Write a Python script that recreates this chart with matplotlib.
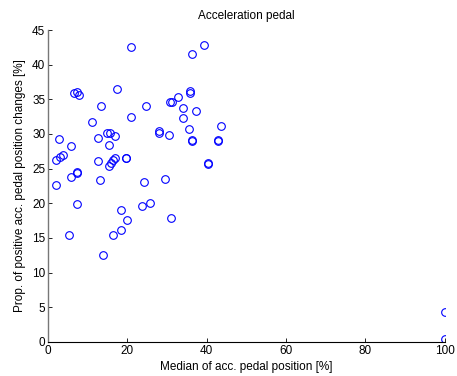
import numpy as np
import matplotlib.pyplot as plt

plt.rcParams['font.family'] = ['Liberation Sans', 'DejaVu Sans']
plt.rcParams['font.size'] = 8.5

# median of acc. pedal position [%]
median_pos = [21.0, 6.5, 7.4, 7.8, 17.4, 13.3, 24.7, 21.0, 11.0, 14.9,
              15.7, 16.8, 12.6, 2.7, 27.9, 27.9, 30.4, 5.7, 15.3, 1.9,
              3.1, 3.7, 12.5, 15.3, 15.9, 16.4, 16.9, 19.7, 19.7, 7.2,
              7.2, 2.1, 5.7, 13.2, 24.1, 29.6, 30.7, 7.4, 18.3, 23.7,
              25.6, 19.9, 5.3, 16.4, 18.5, 13.8, 30.9, 39.3, 36.4, 35.9,
              35.9, 32.8, 31.3, 34.0, 37.3, 34.0, 35.5, 43.7, 36.4, 36.4,
              42.8, 42.8, 40.3, 40.3, 100.0, 100.0]
# proportion of positive pedal position changes [%]
prop_pos = [42.5, 35.9, 36.0, 35.6, 36.5, 34.1, 34.1, 32.4, 31.7, 30.2,
            30.2, 29.7, 29.4, 29.3, 30.4, 30.1, 29.9, 28.3, 28.4, 26.2,
            26.7, 26.9, 26.1, 25.4, 25.8, 26.2, 26.5, 26.6, 26.5, 24.5,
            24.4, 22.6, 23.8, 23.3, 23.1, 23.5, 34.6, 19.9, 19.0, 19.6,
            20.1, 17.6, 15.4, 15.4, 16.1, 12.5, 17.9, 42.8, 41.5, 36.2,
            35.9, 35.3, 34.6, 33.8, 33.3, 32.3, 30.7, 31.1, 29.1, 29.0,
            29.1, 29.0, 25.8, 25.7, 4.3, 0.35]

fig = plt.figure(figsize=(4.57, 3.76), dpi=100)
ax = fig.add_axes([0.105, 0.091, 0.868, 0.829])

ax.plot(median_pos, prop_pos, 'o', mfc='none', mec='blue', ms=5.5, mew=0.8)

ax.set_xlim(0, 100)
ax.set_ylim(0, 45)
ax.set_xticks(np.arange(0, 101, 20))
ax.set_yticks(np.arange(0, 46, 5))
ax.tick_params(direction='in', length=3, width=0.6, pad=2)
ax.spines['top'].set_visible(False)
ax.spines['right'].set_visible(False)
ax.spines['left'].set_color('#777777')
ax.spines['left'].set_linewidth(1.0)
ax.spines['bottom'].set_linewidth(0.8)

ax.set_title('Acceleration pedal', fontsize=8.5, pad=8)
ax.set_xlabel('Median of acc. pedal position [%]', labelpad=3)
ax.set_ylabel('Prop. of positive acc. pedal position changes [%]')

fig.savefig('out.png', dpi=100)
